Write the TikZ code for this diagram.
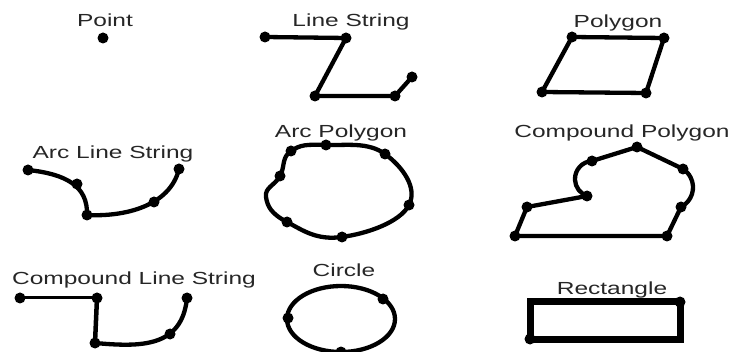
\documentclass[tikz,border=0pt]{standalone}
\usepackage{fontspec}
\setmainfont[FakeStretch=1.4]{Liberation Sans}
\begin{document}
\begin{tikzpicture}[x=1pt,y=-1pt, line width=4.3pt, line join=round, line cap=round,
  lbl/.style={font=\fontsize{17.5}{20}\selectfont, text=black!85, inner sep=0pt, anchor=base},
  vtx/.style={circle, fill=black, draw=none, inner sep=0pt, minimum size=11pt}]
\useasboundingbox (0,0) rectangle (733,352);
% ---------- labels
\node[lbl] (tPoint) at (105,27) {Point};
\node[lbl] (tLS) at (351,27) {Line String};
\node[lbl] (tPoly) at (618,28) {Polygon};
\node[lbl] (tALS) at (113,159) {Arc Line String};
\node[lbl] (tAP) at (341,138) {Arc Polygon};
\node[lbl] (tCP) at (622,138) {Compound Polygon};
\node[lbl] (tCLS) at (134,285) {Compound Line String};
\node[lbl] (tCir) at (344,277) {Circle};
\node[lbl] (tRect) at (612,295) {Rectangle};
% ---------- point
\node[vtx] (pt) at (103,38) {};
% ---------- line string
\node[vtx] (ls1) at (265,37) {};
\node[vtx] (ls2) at (346,38) {};
\node[vtx] (ls3) at (315,96) {};
\node[vtx] (ls4) at (395,96) {};
\node[vtx] (ls5) at (412,77) {};
\draw (ls1.center) -- (ls2.center) -- (ls3.center) -- (ls4.center) -- (ls5.center);
% ---------- polygon
\node[vtx] (pg1) at (572,37) {};
\node[vtx] (pg2) at (664,38) {};
\node[vtx] (pg3) at (646,93) {};
\node[vtx] (pg4) at (542,92) {};
\draw (pg1.center) -- (pg2.center) -- (pg3.center) -- (pg4.center) -- cycle;
% ---------- arc line string
\node[vtx] (al1) at (28,170) {};
\node[vtx] (al2) at (77,184) {};
\node[vtx] (al3) at (87,215) {};
\node[vtx] (al4) at (154,202) {};
\node[vtx] (al5) at (179,169) {};
\draw (al1.center) .. controls (66,174) and (88,186) .. (al3.center)
      .. controls (125,217) and (170,206) .. (al5.center);
% ---------- arc polygon
\node[vtx] (ap1) at (291,151) {};
\node[vtx] (ap2) at (326,145) {};
\node[vtx] (ap3) at (385,154) {};
\node[vtx] (ap4) at (409,205) {};
\node[vtx] (ap5) at (342,237) {};
\node[vtx] (ap6) at (287,222) {};
\node[vtx] (ap7) at (280,176) {};
\coordinate (apL) at (266,197);
\draw plot[smooth cycle, tension=0.75] coordinates {(ap1.center) (ap2.center) (ap3.center) (ap4.center) (ap5.center) (ap6.center) (apL) (ap7.center)};
% ---------- compound polygon
\node[vtx] (cp1) at (637,147) {};
\node[vtx] (cp2) at (592,161) {};
\node[vtx] (cp3) at (683,169) {};
\node[vtx] (cp4) at (587,196) {};
\node[vtx] (cp5) at (527,207) {};
\node[vtx] (cp6) at (681,207) {};
\node[vtx] (cp7) at (515,236) {};
\node[vtx] (cp8) at (667,236) {};
\draw (cp7.center) -- (cp8.center) -- (cp6.center)
      arc[start angle=63.0, end angle=-56.9, radius=22.0]
      -- (cp1.center) -- (cp2.center)
      arc[start angle=266.8, end angle=109.4, radius=18.03]
      -- (cp5.center) -- cycle;
% ---------- compound line string
\node[vtx] (cl1) at (20,298) {};
\node[vtx] (cl2) at (97,298) {};
\node[vtx] (cl3) at (95,343) {};
\node[vtx] (cl4) at (170,334) {};
\node[vtx] (cl5) at (187,298) {};
\draw[line width=3pt] (cl1.center) -- (cl2.center);
\draw[line width=4.5pt] (cl2.center) -- (cl3.center);
\draw (cl3.center) .. controls (140,347) and (182,348) .. (cl5.center);
% ---------- circle
\coordinate (cc) at (341,319);
\draw (cc) ellipse [x radius=54, y radius=33];
\node[vtx] (ci1) at (288,318) {};
\node[vtx] (ci2) at (383,299) {};
\node[vtx] (ci3) at (341,352) {};
% ---------- rectangle
\node[vtx] (re1) at (680,302) {};
\node[vtx] (re2) at (530,339) {};
\draw[line width=7pt, line join=miter, line cap=butt] (re1.center) -| (re2.center) -| cycle;
\end{tikzpicture}
\end{document}
